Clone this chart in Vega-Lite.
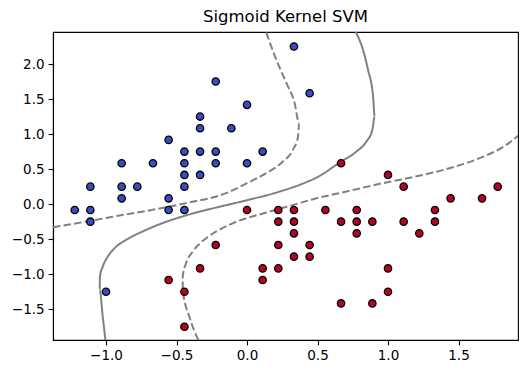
{
  "$schema": "https://vega.github.io/schema/vega-lite/v6.json",
  "width": 465,
  "height": 308,
  "autosize": "none",
  "padding": {"left": 53, "top": 32, "right": 10, "bottom": 34},
  "background": "white",
  "title": {"text": "Sigmoid Kernel SVM", "fontSize": 16.5, "font": "DejaVu Sans", "fontWeight": "normal", "color": "black", "anchor": "middle", "offset": 7},
  "config": {
    "view": {"stroke": "black", "strokeWidth": 1.1},
    "axis": {"domainColor": "black", "domainWidth": 1.1, "tickColor": "black", "tickWidth": 1.1, "labelColor": "black", "labelFont": "DejaVu Sans", "labelFontSize": 13.5, "tickSize": 4.9, "grid": false, "title": null, "labelPadding": 4}
  },
  "datasets": {
    "pts": [
      {"x": -1.222, "y": -0.083, "c": 0}, {"x": -1.111, "y": 0.25, "c": 0}, {"x": -1.111, "y": -0.083, "c": 0}, {"x": -1.111, "y": -0.25, "c": 0},
      {"x": -1.0, "y": -1.25, "c": 0}, {"x": -0.889, "y": 0.583, "c": 0}, {"x": -0.889, "y": 0.25, "c": 0}, {"x": -0.889, "y": 0.083, "c": 0},
      {"x": -0.778, "y": 0.25, "c": 0}, {"x": -0.667, "y": 0.583, "c": 0}, {"x": -0.556, "y": 0.917, "c": 0}, {"x": -0.556, "y": 0.083, "c": 0},
      {"x": -0.556, "y": -0.083, "c": 0}, {"x": -0.444, "y": 0.75, "c": 0}, {"x": -0.444, "y": 0.583, "c": 0}, {"x": -0.444, "y": 0.417, "c": 0},
      {"x": -0.444, "y": 0.25, "c": 0}, {"x": -0.444, "y": -0.083, "c": 0}, {"x": -0.333, "y": 1.25, "c": 0}, {"x": -0.333, "y": 1.083, "c": 0},
      {"x": -0.333, "y": 0.75, "c": 0}, {"x": -0.333, "y": 0.417, "c": 0}, {"x": -0.222, "y": 1.75, "c": 0}, {"x": -0.222, "y": 0.75, "c": 0},
      {"x": -0.222, "y": 0.583, "c": 0}, {"x": -0.111, "y": 1.083, "c": 0}, {"x": 0.0, "y": 1.417, "c": 0}, {"x": 0.0, "y": 0.583, "c": 0},
      {"x": 0.111, "y": 0.75, "c": 0}, {"x": 0.333, "y": 2.25, "c": 0}, {"x": 0.444, "y": 1.583, "c": 0},
      {"x": -0.556, "y": -1.083, "c": 1}, {"x": -0.444, "y": -1.25, "c": 1}, {"x": -0.444, "y": -1.75, "c": 1}, {"x": -0.333, "y": -0.917, "c": 1},
      {"x": -0.222, "y": -0.583, "c": 1}, {"x": 0.0, "y": -0.083, "c": 1}, {"x": 0.111, "y": -0.917, "c": 1}, {"x": 0.111, "y": -1.083, "c": 1},
      {"x": 0.222, "y": -0.083, "c": 1}, {"x": 0.222, "y": -0.25, "c": 1}, {"x": 0.222, "y": -0.583, "c": 1}, {"x": 0.222, "y": -0.917, "c": 1},
      {"x": 0.333, "y": -0.083, "c": 1}, {"x": 0.333, "y": -0.25, "c": 1}, {"x": 0.333, "y": -0.417, "c": 1}, {"x": 0.333, "y": -0.75, "c": 1},
      {"x": 0.444, "y": -0.583, "c": 1}, {"x": 0.444, "y": -0.75, "c": 1}, {"x": 0.556, "y": -0.083, "c": 1}, {"x": 0.667, "y": 0.583, "c": 1},
      {"x": 0.667, "y": -0.25, "c": 1}, {"x": 0.667, "y": -1.417, "c": 1}, {"x": 0.778, "y": -0.083, "c": 1}, {"x": 0.778, "y": -0.25, "c": 1},
      {"x": 0.778, "y": -0.417, "c": 1}, {"x": 0.889, "y": -0.25, "c": 1}, {"x": 0.889, "y": -1.417, "c": 1}, {"x": 1.0, "y": 0.417, "c": 1},
      {"x": 1.0, "y": -0.917, "c": 1}, {"x": 1.0, "y": -1.25, "c": 1}, {"x": 1.111, "y": 0.25, "c": 1}, {"x": 1.111, "y": -0.25, "c": 1},
      {"x": 1.222, "y": -0.417, "c": 1}, {"x": 1.333, "y": -0.083, "c": 1}, {"x": 1.333, "y": -0.25, "c": 1}, {"x": 1.444, "y": 0.083, "c": 1},
      {"x": 1.667, "y": 0.083, "c": 1}, {"x": 1.778, "y": 0.25, "c": 1}
    ],
    "curves": [
      {"curve": "s", "style": "solid", "i": 1, "x": -1.004, "y": -1.939},
      {"curve": "s", "style": "solid", "i": 2, "x": -1.023, "y": -1.61},
      {"curve": "s", "style": "solid", "i": 3, "x": -1.045, "y": -1.22},
      {"curve": "s", "style": "solid", "i": 4, "x": -1.043, "y": -1.03},
      {"curve": "s", "style": "solid", "i": 5, "x": -1.023, "y": -0.89},
      {"curve": "s", "style": "solid", "i": 6, "x": -0.988, "y": -0.75},
      {"curve": "s", "style": "solid", "i": 7, "x": -0.94, "y": -0.63},
      {"curve": "s", "style": "solid", "i": 8, "x": -0.858, "y": -0.51},
      {"curve": "s", "style": "solid", "i": 9, "x": -0.74, "y": -0.39},
      {"curve": "s", "style": "solid", "i": 10, "x": -0.598, "y": -0.27},
      {"curve": "s", "style": "solid", "i": 11, "x": -0.432, "y": -0.16},
      {"curve": "s", "style": "solid", "i": 12, "x": -0.243, "y": -0.06},
      {"curve": "s", "style": "solid", "i": 13, "x": -0.054, "y": 0.03},
      {"curve": "s", "style": "solid", "i": 14, "x": 0.232, "y": 0.18},
      {"curve": "s", "style": "solid", "i": 15, "x": 0.374, "y": 0.276},
      {"curve": "s", "style": "solid", "i": 16, "x": 0.516, "y": 0.404},
      {"curve": "s", "style": "solid", "i": 17, "x": 0.657, "y": 0.594},
      {"curve": "s", "style": "solid", "i": 18, "x": 0.776, "y": 0.751},
      {"curve": "s", "style": "solid", "i": 19, "x": 0.847, "y": 0.894},
      {"curve": "s", "style": "solid", "i": 20, "x": 0.889, "y": 1.061},
      {"curve": "s", "style": "solid", "i": 21, "x": 0.906, "y": 1.25},
      {"curve": "s", "style": "solid", "i": 22, "x": 0.894, "y": 1.54},
      {"curve": "s", "style": "solid", "i": 23, "x": 0.858, "y": 1.92},
      {"curve": "s", "style": "solid", "i": 24, "x": 0.823, "y": 2.2},
      {"curve": "s", "style": "solid", "i": 25, "x": 0.772, "y": 2.457},
      {"curve": "u", "style": "dashed", "i": 1, "x": -1.376, "y": -0.329},
      {"curve": "u", "style": "dashed", "i": 2, "x": -1.142, "y": -0.249},
      {"curve": "u", "style": "dashed", "i": 3, "x": -0.905, "y": -0.163},
      {"curve": "u", "style": "dashed", "i": 4, "x": -0.669, "y": -0.081},
      {"curve": "u", "style": "dashed", "i": 5, "x": -0.433, "y": 0.014},
      {"curve": "u", "style": "dashed", "i": 6, "x": -0.149, "y": 0.157},
      {"curve": "u", "style": "dashed", "i": 7, "x": 0.0, "y": 0.3},
      {"curve": "u", "style": "dashed", "i": 8, "x": 0.137, "y": 0.443},
      {"curve": "u", "style": "dashed", "i": 9, "x": 0.255, "y": 0.609},
      {"curve": "u", "style": "dashed", "i": 10, "x": 0.326, "y": 0.776},
      {"curve": "u", "style": "dashed", "i": 11, "x": 0.362, "y": 0.966},
      {"curve": "u", "style": "dashed", "i": 12, "x": 0.369, "y": 1.157},
      {"curve": "u", "style": "dashed", "i": 13, "x": 0.338, "y": 1.44},
      {"curve": "u", "style": "dashed", "i": 14, "x": 0.279, "y": 1.73},
      {"curve": "u", "style": "dashed", "i": 15, "x": 0.208, "y": 2.06},
      {"curve": "u", "style": "dashed", "i": 16, "x": 0.135, "y": 2.457},
      {"curve": "l", "style": "dashed", "i": 1, "x": -0.345, "y": -1.939},
      {"curve": "l", "style": "dashed", "i": 2, "x": -0.409, "y": -1.606},
      {"curve": "l", "style": "dashed", "i": 3, "x": -0.456, "y": -1.224},
      {"curve": "l", "style": "dashed", "i": 4, "x": -0.456, "y": -1.03},
      {"curve": "l", "style": "dashed", "i": 5, "x": -0.432, "y": -0.843},
      {"curve": "l", "style": "dashed", "i": 6, "x": -0.385, "y": -0.677},
      {"curve": "l", "style": "dashed", "i": 7, "x": -0.29, "y": -0.486},
      {"curve": "l", "style": "dashed", "i": 8, "x": -0.2, "y": -0.37},
      {"curve": "l", "style": "dashed", "i": 9, "x": -0.099, "y": -0.27},
      {"curve": "l", "style": "dashed", "i": 10, "x": 0.137, "y": -0.12},
      {"curve": "l", "style": "dashed", "i": 11, "x": 0.33, "y": -0.01},
      {"curve": "l", "style": "dashed", "i": 12, "x": 0.468, "y": 0.071},
      {"curve": "l", "style": "dashed", "i": 13, "x": 0.705, "y": 0.18},
      {"curve": "l", "style": "dashed", "i": 14, "x": 0.941, "y": 0.29},
      {"curve": "l", "style": "dashed", "i": 15, "x": 1.177, "y": 0.386},
      {"curve": "l", "style": "dashed", "i": 16, "x": 1.414, "y": 0.5},
      {"curve": "l", "style": "dashed", "i": 17, "x": 1.65, "y": 0.657},
      {"curve": "l", "style": "dashed", "i": 18, "x": 1.84, "y": 0.847},
      {"curve": "l", "style": "dashed", "i": 19, "x": 1.922, "y": 0.976}
    ]
  },
  "layer": [
    {
      "data": {"name": "curves"},
      "mark": {"type": "line", "stroke": "#808080", "strokeWidth": 2, "clip": true, "interpolate": "monotone"},
      "encoding": {
        "x": {"field": "x", "type": "quantitative", "scale": {"domain": [-1.376, 1.922], "nice": false, "zero": false}, "axis": {"values": [-1, -0.5, 0, 0.5, 1, 1.5], "format": ".1f"}},
        "y": {"field": "y", "type": "quantitative", "scale": {"domain": [-1.939, 2.457], "nice": false, "zero": false}, "axis": {"values": [-1.5, -1, -0.5, 0, 0.5, 1, 1.5, 2], "format": ".1f"}},
        "detail": {"field": "curve", "type": "nominal"},
        "order": {"field": "i", "type": "quantitative"},
        "strokeDash": {"field": "style", "type": "nominal", "scale": {"domain": ["solid", "dashed"], "range": [[1, 0], [7.5, 3.2]]}, "legend": null}
      }
    },
    {
      "data": {"name": "pts"},
      "mark": {"type": "circle", "stroke": "black", "strokeWidth": 1.3, "size": 54, "opacity": 1},
      "encoding": {
        "x": {"field": "x", "type": "quantitative"},
        "y": {"field": "y", "type": "quantitative"},
        "fill": {"field": "c", "type": "nominal", "scale": {"domain": [0, 1], "range": ["#3b4cc0", "#b40426"]}, "legend": null}
      }
    }
  ]
}
